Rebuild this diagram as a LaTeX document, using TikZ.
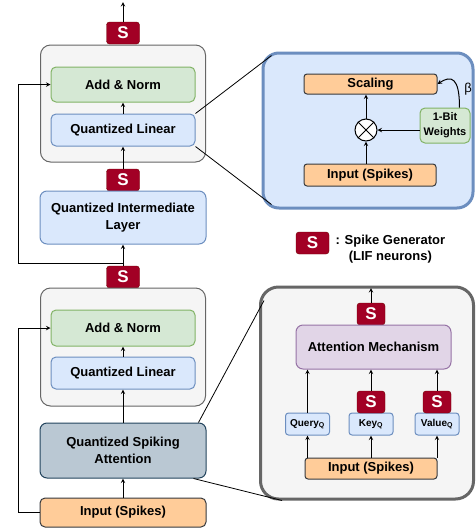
\documentclass[tikz,border=0pt]{standalone}
\usepackage{fontspec}
\setmainfont{Liberation Sans}
\usetikzlibrary{arrows}

\definecolor{groupfill}{HTML}{F5F5F5}
\definecolor{groupdraw}{HTML}{666666}
\definecolor{greenfill}{HTML}{D5E8D4}
\definecolor{greendraw}{HTML}{82B366}
\definecolor{bluefill}{HTML}{DAE8FC}
\definecolor{bluedraw}{HTML}{6C8EBF}
\definecolor{spikefill}{HTML}{A20025}
\definecolor{spikedraw}{HTML}{6F0000}
\definecolor{orangefill}{HTML}{FFCC99}
\definecolor{orangedraw}{HTML}{36393D}
\definecolor{attnfill}{HTML}{BAC8D3}
\definecolor{attndraw}{HTML}{23445D}
\definecolor{purplefill}{HTML}{E1D5E7}
\definecolor{purpledraw}{HTML}{9673A6}

\begin{document}
\begin{tikzpicture}[x=1pt, y=-1pt, every node/.style={font=\fontsize{13}{16.5}\selectfont\bfseries}]
    % Styles
    \tikzstyle{group} = [rectangle, rounded corners=10pt, draw=groupdraw, fill=groupfill, line width=1pt, minimum width=165pt, minimum height=117pt]
    \tikzstyle{block} = [rectangle, rounded corners=5pt, line width=1pt, inner sep=0pt, text centered, align=center]
    \tikzstyle{norm} = [block, draw=greendraw, fill=greenfill, minimum width=144pt, minimum height=35pt]
    \tikzstyle{linear} = [block, draw=bluedraw, fill=bluefill, minimum width=144pt, minimum height=32pt]
    \tikzstyle{spike} = [rectangle, rounded corners=3pt, draw=spikedraw, fill=spikefill, text=white, minimum width=33pt, minimum height=22pt, inner sep=0pt, font=\fontsize{17}{17}\selectfont\bfseries]
    \tikzstyle{inputbox} = [block, draw=orangedraw, fill=orangefill]
    \tikzstyle{zoombox} = [rectangle, rounded corners=16pt, line width=3pt]
    \tikzstyle{qkv} = [block, draw=bluedraw, fill=bluefill, minimum width=44pt, minimum height=22pt, rounded corners=3pt, font=\fontsize{10}{12}\selectfont\bfseries]
    \tikzstyle{arrow} = [line width=1pt,->,>=stealth]
    \tikzstyle{zoomline} = [line width=0.8pt]

    \useasboundingbox (0,0) rectangle (475,531);

    % Left column
    \node (upper) [group] at (123,103.5) {};
    \node (normA) [norm] at (123,84.5) {Add \& Norm};
    \node (linearA) [linear] at (123,130) {Quantized Linear};
    \node (spikeTop) [spike] at (123,33) {S};
    \node (spikeMid) [spike] at (123,180) {S};
    \node (interm) [linear, minimum width=166pt, minimum height=53pt, rounded corners=7pt] at (123,217.5) {Quantized Intermediate\\Layer};
    \node (spikeLow) [spike] at (123,277) {S};
    \node (lower) [group, minimum height=118pt] at (123,347) {};
    \node (normB) [norm, minimum height=36pt] at (123,328) {Add \& Norm};
    \node (linearB) [linear] at (123,373) {Quantized Linear};
    \node (qsa) [block, draw=attndraw, fill=attnfill, minimum width=166pt, minimum height=55pt, rounded corners=7pt] at (123,450.5) {Quantized Spiking\\Attention};
    \node (inputA) [inputbox, minimum width=166pt, minimum height=29pt] at (123,512.5) {Input (Spikes)};

    % Quantized linear detail
    \node (quant) [zoombox, draw=bluedraw, fill=bluefill, minimum width=210pt, minimum height=155pt] at (368,130.5) {};
    \node (scaling) [inputbox, minimum width=133pt, minimum height=20pt, rounded corners=3pt] at (370.5,84) {Scaling};
    \node (mult) [circle, draw=black, fill=white, line width=1pt, minimum size=22pt, inner sep=0pt] at (366,130) {};
    \draw [line width=1pt] (mult.45) -- (mult.225) (mult.135) -- (mult.315);
    \node (inputB) [inputbox, minimum width=132pt, minimum height=22pt, rounded corners=3pt] at (370,175) {Input (Spikes)};
    \node (weights) [block, draw=greendraw, fill=greenfill, minimum width=50pt, minimum height=35pt, font=\fontsize{11}{15}\selectfont\bfseries] at (445,125.5) {1-Bit\\Weights};
    \node (beta) [font=\fontsize{13}{13}\selectfont] at (468,89) {β};

    % Legend
    \node (spikeLeg) [spike] at (312.5,243) {S};
    \node (legend) [align=center, anchor=west] at (332,249) {: Spike Generator\\(LIF neurons)};

    % Attention detail
    \node (attn) [zoombox, draw=groupdraw, fill=groupfill, rounded corners=18pt, minimum width=213pt, minimum height=212pt] at (367,393) {};
    \node (spikeAtt) [spike, minimum width=28pt] at (371,314) {S};
    \node (mech) [block, draw=purpledraw, fill=purplefill, minimum width=155pt, minimum height=44pt, rounded corners=7pt] at (373.5,347) {Attention Mechanism};
    \node (query) [qkv] at (307.5,424) {Query\textsubscript{Q}};
    \node (key) [qkv] at (371,424) {Key\textsubscript{Q}};
    \node (value) [qkv] at (437,424) {Value\textsubscript{Q}};
    \node (spikeKey) [spike, minimum width=28pt] at (371,402) {S};
    \node (spikeVal) [spike, minimum width=28pt] at (437,402) {S};
    \node (inputC) [inputbox, minimum width=132pt, minimum height=21pt, rounded corners=3pt] at (371,468.5) {Input (Spikes)};

    % Free ends
    \coordinate (topOut) at (123,2);
    \coordinate (attnOut) at (371,288);
    \coordinate (splitA) at (123,263);
    \coordinate (leftA) at (18,263);
    \coordinate (leftB) at (18,512.5);

    % Arrows
    \draw [arrow] (spikeTop) -- (topOut);
    \draw [arrow] (linearA) -- (normA);
    \draw [arrow] (spikeMid) -- (linearA);
    \draw [arrow] (spikeLow) -- (interm);
    \draw [arrow] (splitA) -- (leftA) |- (normA.west);
    \draw [arrow] (inputA) -- (qsa);
    \draw [arrow] (qsa) -- (linearB);
    \draw [arrow] (linearB) -- (normB);
    \draw [arrow] (inputA.west) -- (leftB) |- (normB.west);

    \draw [arrow] (inputB.north -| mult) -- (mult.south);
    \draw [arrow] (mult.north) -- (mult |- scaling.south);
    \draw [arrow] (weights.west |- mult) -- (mult.east);
    \draw [arrow] ([xshift=-11pt]weights.north east) .. controls +(0,-30) and +(14,-9) .. (scaling.east);

    \draw [arrow] (spikeAtt) -- (attnOut);
    \draw [arrow] (query) -- (query |- mech.south);
    \draw [arrow] (spikeKey) -- (spikeKey |- mech.south);
    \draw [arrow] (spikeVal) -- (spikeVal |- mech.south);
    \draw [arrow] (inputC.north -| query) -- (query.south);
    \draw [arrow] (inputC.north -| key) -- (key.south);
    \draw [arrow] (inputC.north -| value) -- (value.south);

    % Zoom lines
    \draw [zoomline] (linearA.north east) -- ([shift={(10,4)}]quant.north west);
    \draw [zoomline] (linearA.south east) -- ([shift={(10,-5)}]quant.south west);
    \draw [zoomline] ([xshift=-8pt]qsa.north east) -- ([shift={(5,15)}]attn.north west);
    \draw [zoomline] ([xshift=-13pt]qsa.south east) -- ([shift={(23,0)}]attn.south west);
\end{tikzpicture}
\end{document}
